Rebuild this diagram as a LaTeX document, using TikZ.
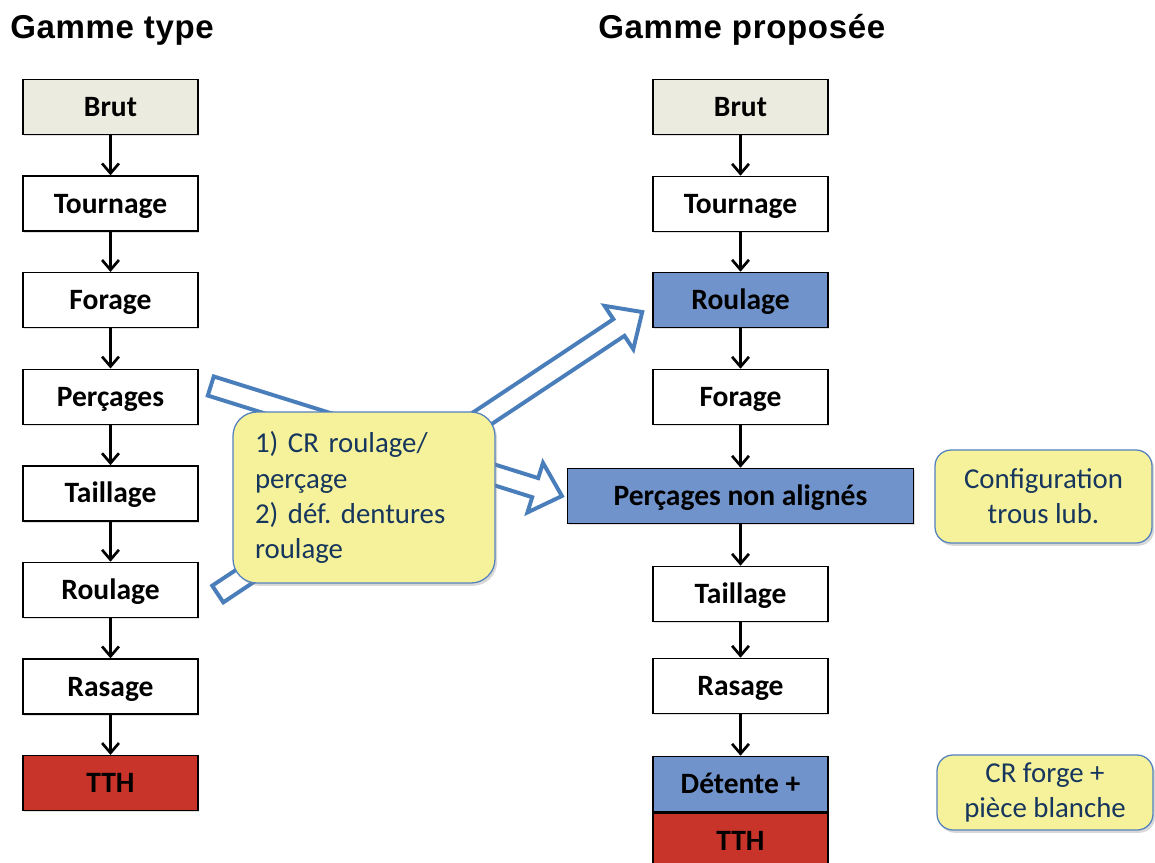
\documentclass[tikz,border=0pt]{standalone}
\usepackage{fontspec}
\setmainfont{Carlito}
\newfontfamily\headfont[LetterSpace=2]{Liberation Sans}
\usepackage{xcolor}
\usepackage{tikz}
\usetikzlibrary{positioning,arrows.meta,calc,shadows}

\definecolor{brutgray}{RGB}{236,235,224}
\definecolor{stepblue}{RGB}{112,147,203}
\definecolor{stepred}{RGB}{200,52,42}
\definecolor{noteyellow}{RGB}{246,242,155}
\definecolor{noteline}{RGB}{84,130,190}
\definecolor{notetext}{RGB}{23,54,93}
\definecolor{hollowblue}{RGB}{74,126,187}

\newcommand{\hollowarrow}[2]{%
  \draw[hollow] let \p1=($(#2)-(#1)$), \n1={atan2(\y1,\x1)} in
    ($(#1)+(\n1+90:0.25)$) -- ($(#2)+(\n1+180:0.7)+(\n1+90:0.25)$)
    -- ($(#2)+(\n1+180:0.7)+(\n1+90:0.65)$) -- (#2)
    -- ($(#2)+(\n1+180:0.7)+(\n1-90:0.65)$) -- ($(#2)+(\n1+180:0.7)+(\n1-90:0.25)$)
    -- ($(#1)+(\n1-90:0.25)$) -- cycle;}

\frenchspacing
\begin{document}
\begin{tikzpicture}[font=\fontsize{21}{25}\selectfont\bfseries,>={Straight Barb[length=7pt,width=12pt]},on grid,
  stepbox/.style={draw,line width=1.1pt,fill=white,minimum width=4.375cm,minimum height=1.375cm,
    text height=17.7pt,text depth=4.2pt,inner sep=0pt,
    drop shadow={opacity=0.25,shadow xshift=1pt,shadow yshift=-1.2pt}},
  note/.style={draw=noteline,line width=0.9pt,fill=noteyellow,text=notetext,inner sep=0pt,
    font=\fontsize{20.5}{25}\selectfont\mdseries,
    drop shadow={opacity=0.3,shadow xshift=1.5pt,shadow yshift=-2pt}},
  flow/.style={->,line width=1.9pt},
  hollow/.style={draw=hollowblue,fill=white,line width=2.8pt,line join=miter}]
\useasboundingbox[fill=white] (0,0) rectangle (28.875,-21.55);

\node[anchor=base west,inner sep=0pt,font={\headfont\fontsize{23.5}{27}\selectfont\bfseries}] (ltitle) at (0.25,-0.95) {Gamme type};
\node[anchor=base west,inner sep=0pt,font={\headfont\fontsize{23.5}{27}\selectfont\bfseries}] (rtitle) at (14.95,-0.95) {Gamme proposée};

\node[stepbox,fill=brutgray] (lbrut) at (2.7625,-2.675) {Brut};
\node[stepbox,below=2.415cm of lbrut] (ltour) {Tournage};
\node[stepbox,below=2.415cm of ltour] (lfor) {Forage};
\node[stepbox,below=2.415cm of lfor] (lperc) {Perçages};
\node[stepbox,below=2.415cm of lperc] (ltail) {Taillage};
\node[stepbox,below=2.415cm of ltail] (lroul) {Roulage};
\node[stepbox,below=2.415cm of lroul] (lras) {Rasage};
\node[stepbox,fill=stepred,below=2.415cm of lras] (ltth) {TTH};

\node[stepbox,fill=brutgray,right=15.75cm of lbrut] (rbrut) {Brut};
\node[stepbox,below=2.425cm of rbrut] (rtour) {Tournage};
\node[stepbox,fill=stepblue,below=2.4cm of rtour] (rroul) {Roulage};
\node[stepbox,below=2.425cm of rroul] (rfor) {Forage};
\node[stepbox,fill=stepblue,minimum width=8.65cm,below=2.475cm of rfor] (rperc) {Perçages non alignés};
\node[stepbox,below=2.45cm of rperc] (rtail) {Taillage};
\node[stepbox,below=2.3cm of rtail] (rras) {Rasage};
\node[stepbox,fill=stepblue,below=2.45cm of rras] (rdet) {Détente +};
\node[stepbox,fill=stepred,anchor=north] (rtth) at (rdet.south) {TTH};

\foreach \a/\b in {lbrut/ltour,ltour/lfor,lfor/lperc,lperc/ltail,ltail/lroul,lroul/lras,lras/ltth,
  rbrut/rtour,rtour/rroul,rroul/rfor,rfor/rperc,rperc/rtail,rtail/rras,rras/rdet}
  \draw[flow] (\a) -- (\b);

\coordinate (h1s) at ($(lperc.east)+(0.3,0.27)$);
\coordinate (h1e) at ($(rperc.west)+(-0.12,0)$);
\coordinate (h2s) at ($(lroul.east)+(0.475,-0.1)$);
\coordinate (h2e) at ($(rroul.west)+(-0.25,-0.3)$);
\hollowarrow{h1s}{h1e}
\hollowarrow{h2s}{h2e}

\node[note,rounded corners=0.6cm,minimum width=6.55cm,minimum height=4.275cm,text width=5.45cm,align=left] (cr1) at (9.1,-12.4375) {1) CR roulage/\\perçage\\2) déf. dentures\\roulage};
\node[note,rounded corners=0.4cm,minimum width=5.425cm,minimum height=2.325cm,align=center] (cfg) at (26.0875,-12.4125) {Configuration\\trous lub.};
\node[note,rounded corners=0.4cm,minimum width=5.4cm,minimum height=1.875cm,align=center] (crf) at (26.125,-19.8125) {CR forge +\\pièce blanche};
\end{tikzpicture}
\end{document}
